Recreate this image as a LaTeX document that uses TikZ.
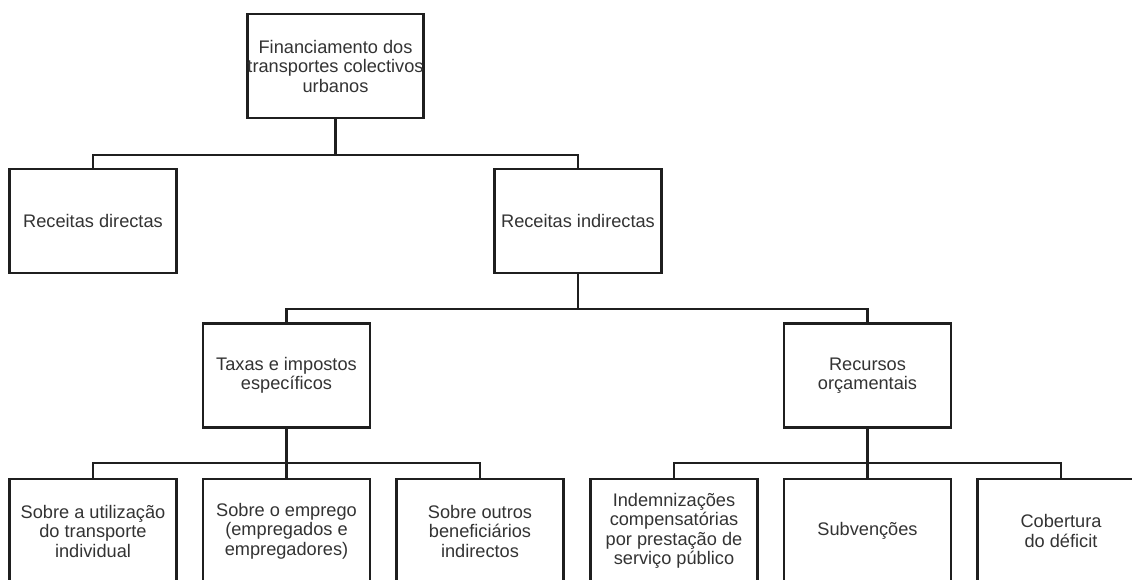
\documentclass[tikz,border=0pt]{standalone}
\usepackage{fontspec}
\setmainfont{Liberation Sans}
\begin{document}
\begin{tikzpicture}[x=1pt,y=-1pt,
  box/.style={draw=black!88, line width=2.5pt, minimum width=167pt, minimum height=104pt,
    inner sep=0pt, align=center, text=black!80, font=\fontsize{18.2}{19.5}\selectfont},
  link/.style={draw=black!88, line width=2.5pt}]
\useasboundingbox (0,0) rectangle (1132,579);
\fill[white] (0,0) rectangle (1132,579);
\clip (0,0) rectangle (1132,579);
\node[box] (top) at (335.5,66) {Financiamento dos\\transportes colectivos\\urbanos};
\node[box] (rd) at (93,221) {Receitas directas};
\node[box] (ri) at (578,221) {Receitas indirectas};
\node[box] (tx) at (286.5,375.5) {Taxas e impostos\\específicos};
\node[box] (ro) at (867.5,375.5) {Recursos\\orçamentais};
\node[box] (b1) at (93,531) {Sobre a utilização\\do transporte\\individual};
\node[box] (b2) at (286.5,531) {Sobre o emprego\\(empregados e\\empregadores)};
\node[box] (b3) at (480,531) {Sobre outros\\beneficiários\\indirectos};
\node[box] (b4) at (674,531) {Indemnizações\\compensatórias\\por prestação de\\serviço público};
\node[box] (b5) at (867.5,531) {Subvenções};
\node[box] (b6) at (1061,531) {Cobertura\\do déficit};
\coordinate (j1) at (335.5,155);
\coordinate (j2) at (578,309);
\coordinate (j3) at (286.5,463);
\coordinate (j4) at (867.5,463);
\draw[link] (top.south) -- (j1);
\draw[link] (rd.north) |- (j1) -| (ri.north);
\draw[link] (ri.south) -- (j2);
\draw[link] (tx.north) |- (j2) -| (ro.north);
\draw[link] (tx.south) -- (j3);
\draw[link] (b1.north) |- (j3) -| (b3.north);
\draw[link] (j3) -- (b2.north);
\draw[link] (ro.south) -- (j4);
\draw[link] (b4.north) |- (j4) -| (b6.north);
\draw[link] (j4) -- (b5.north);
\end{tikzpicture}
\end{document}
